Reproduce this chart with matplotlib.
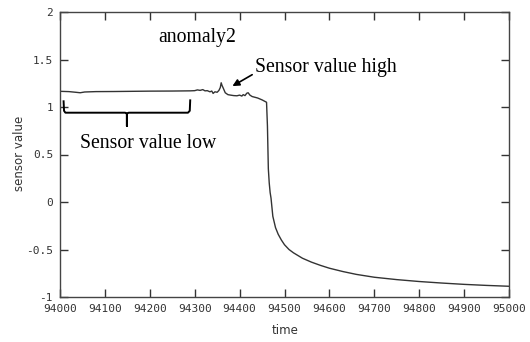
import matplotlib
matplotlib.use("Agg")
import matplotlib.pyplot as plt

# sensor trace (time, sensor value)
time = [94000, 94020, 94035, 94045, 94055, 94080, 94120, 94160, 94200, 94250,
        94290, 94300, 94306, 94312, 94318, 94323, 94328, 94334, 94338, 94341,
        94345, 94350, 94354, 94357, 94359, 94361, 94363, 94368, 94374, 94380,
        94387, 94394, 94400, 94405, 94408, 94412, 94416, 94419, 94423, 94428,
        94440, 94450, 94460, 94462, 94464, 94466, 94468, 94470, 94474, 94480,
        94486, 94493, 94500, 94510, 94520, 94540, 94560, 94580, 94600, 94630,
        94660, 94700, 94750, 94800, 94850, 94900, 94950, 95000]
sensor = [1.165, 1.162, 1.155, 1.150, 1.158, 1.162, 1.163, 1.165, 1.167, 1.168,
          1.170, 1.172, 1.180, 1.175, 1.183, 1.170, 1.172, 1.160, 1.168, 1.143,
          1.160, 1.155, 1.175, 1.205, 1.255, 1.225, 1.205, 1.150, 1.130, 1.125,
          1.120, 1.118, 1.125, 1.115, 1.130, 1.120, 1.145, 1.150, 1.125, 1.110,
          1.095, 1.075, 1.050, 0.800, 0.350, 0.200, 0.100, 0.040, -0.150, -0.270,
          -0.340, -0.400, -0.450, -0.500, -0.535, -0.592, -0.633, -0.667, -0.697, -0.732,
          -0.762, -0.792, -0.817, -0.837, -0.853, -0.867, -0.878, -0.887]

xticks = list(range(94000, 95001, 100))
yticks = [-1, -0.5, 0, 0.5, 1, 1.5, 2]
ytick_labels = ["-1", "-0.5", "0", "0.5", "1", "1.5", "2"]

fig = plt.figure(figsize=(5.30, 3.42), dpi=100)
ax = fig.add_axes([60/530, 1-297/342, 449/530, 285/342])

ax.plot(time, sensor, color="#333333", lw=1.0)

ax.set_xlim(94000, 95000)
ax.set_ylim(-1, 2)
ax.set_xticks(xticks)
ax.set_xticklabels([str(t) for t in xticks])
ax.set_yticks(yticks)
ax.set_yticklabels(ytick_labels)
ax.tick_params(direction="in", length=6, width=1, color="#333333",
               top=True, right=True, labelsize=8, pad=5)
for lab in ax.get_xticklabels() + ax.get_yticklabels():
    lab.set_family("DejaVu Sans Mono")
    lab.set_color("#333333")
for s in ax.spines.values():
    s.set_color("#444444")
    s.set_linewidth(1)

fig.text(20/530, 1-153/342, "sensor value", rotation=90, ha="center", va="center",
         fontsize=8.5, color="#333333")
fig.text(285/530, 1-331/342, "time", ha="center", va="center",
         fontsize=8.5, color="#333333")

serif = "Liberation Serif"
ax.text(94305, 1.73, "anomaly2", family=serif, fontsize=14.2, ha="center", va="center")
ax.text(94434, 1.42, "Sensor value high", family=serif, fontsize=14.2, ha="left", va="center")
ax.annotate("", xy=(94384, 1.22), xytext=(94428, 1.34),
            arrowprops=dict(arrowstyle="-|>", color="black", lw=1.2,
                            mutation_scale=10, shrinkA=0, shrinkB=0))
ax.text(94196, 0.62, "Sensor value low", family=serif, fontsize=14.2, ha="center", va="center")

# curly bracket under the flat part
bx = [94008, 94009, 94012, 94145, 94149, 94149, 94149, 94153, 94285, 94289, 94290]
by = [1.06, 0.96, 0.94, 0.94, 0.93, 0.80, 0.93, 0.94, 0.94, 0.96, 1.07]
ax.plot(bx, by, color="black", lw=1.4, solid_joinstyle="round")

fig.savefig("out.png", dpi=100)
